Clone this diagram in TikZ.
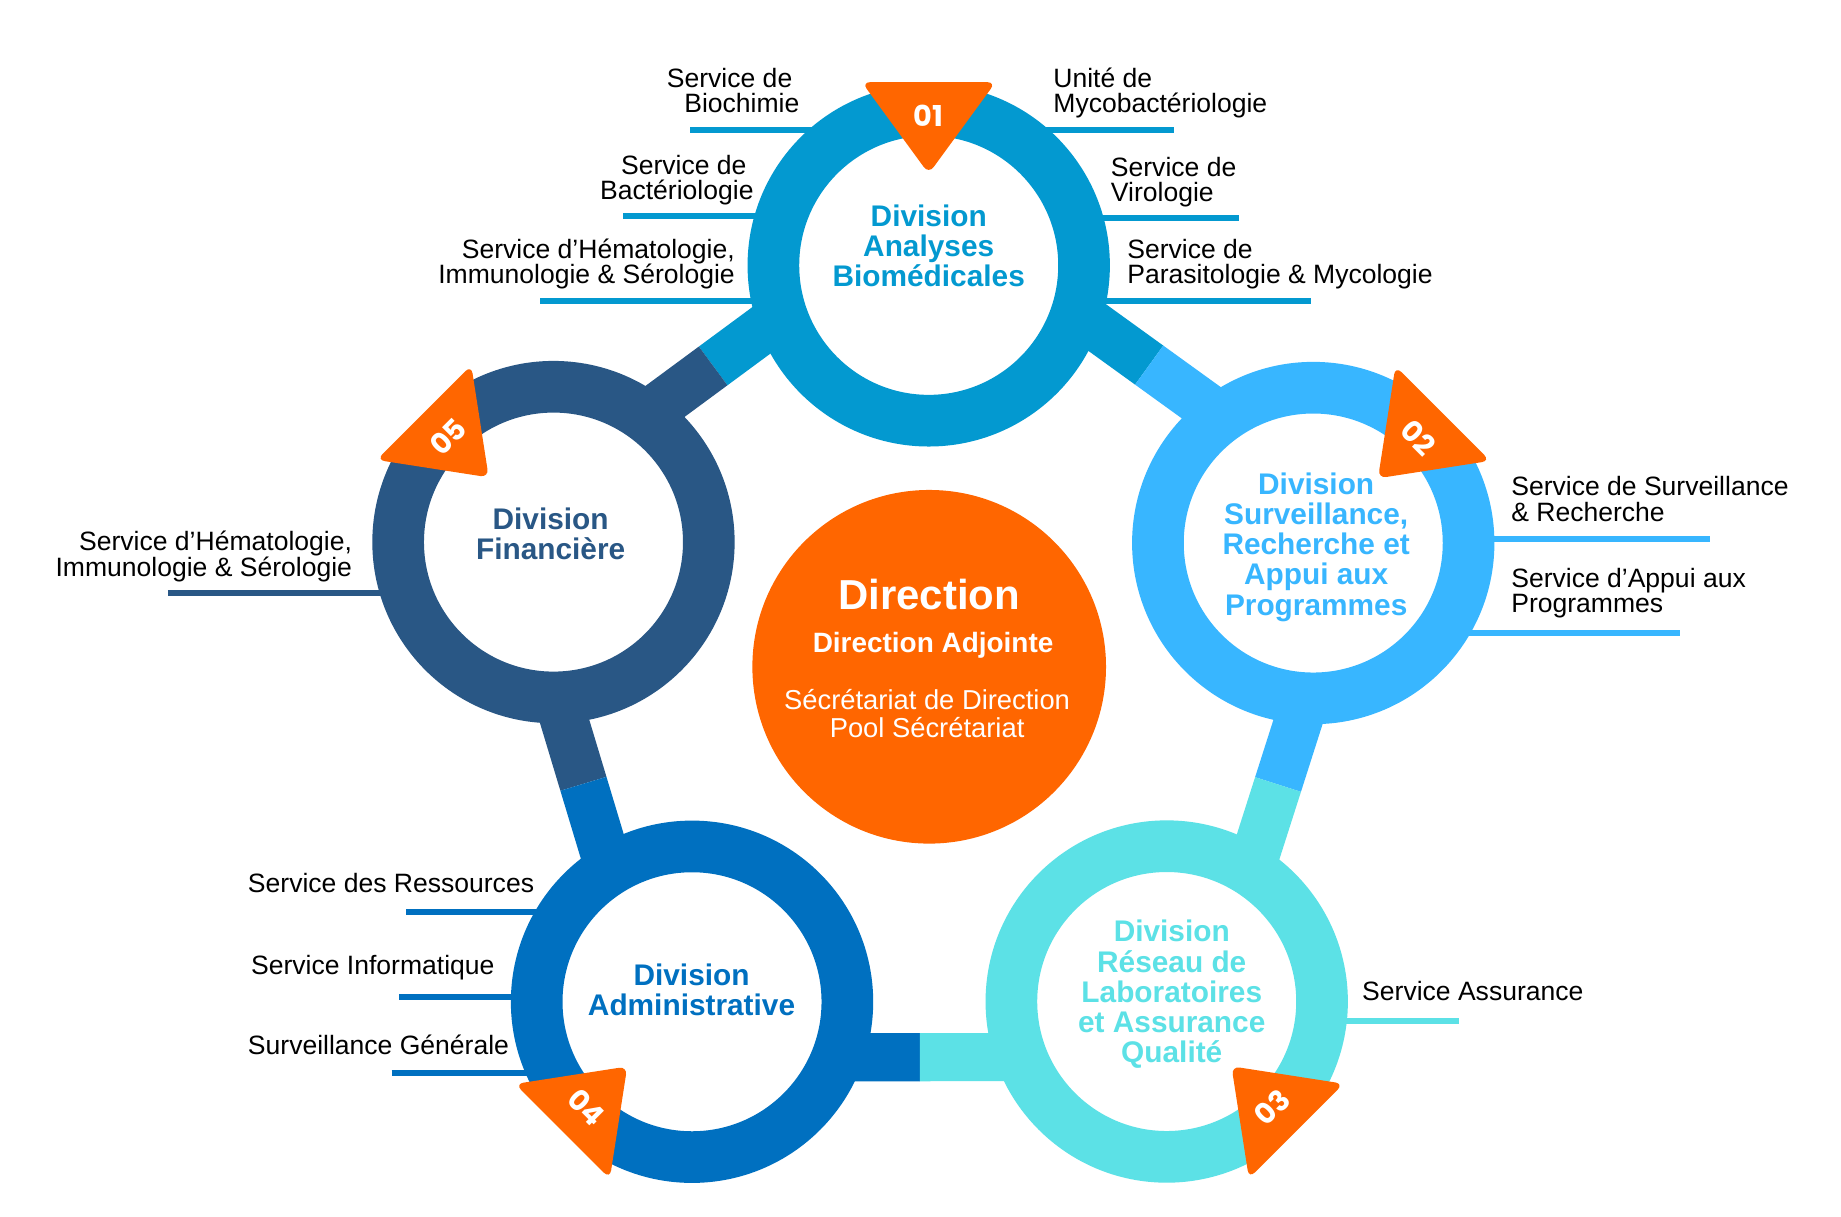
\documentclass[tikz,border=0pt]{standalone}
\usepackage{fontspec}
\setmainfont{Liberation Sans}
\newfontfamily\numfont{Poppins}
\usetikzlibrary{calc}
\definecolor{colA}{HTML}{0399D0}
\definecolor{colB}{HTML}{38B6FF}
\definecolor{colC}{HTML}{5CE1E6}
\definecolor{colD}{HTML}{0070C0}
\definecolor{colE}{HTML}{295785}
\definecolor{orgA}{HTML}{FF6600}
\newcommand\mytop{\rule{0pt}{20pt}}
\newcommand\mytopb{\rule{0pt}{24pt}}
\begin{document}
\begin{tikzpicture}[x=1pt,y=1pt,
  ringnode/.style={circle, minimum size=264.6pt, line width=44pt, fill=white, inner sep=0pt},
  connbar/.style={line width=41pt, line cap=butt},
  svcline/.style={line width=5pt},
  svclabel/.style={font=\fontsize{22.6}{21.6}\selectfont, inner sep=0pt, text=black},
  divtext/.style={font=\fontsize{25.4}{25.7}\selectfont\bfseries, align=center, inner sep=0pt, anchor=north},
  numtext/.style={font=\numfont\fontsize{24.5}{24.5}\selectfont\bfseries, text=white, inner sep=0pt},
  badge/.style={fill=orgA, rounded corners=7pt},
]
\fill[white] (0,0) rectangle (1568,-1036);
\useasboundingbox (0,0) rectangle (1568,-1036);

% ring centres
\coordinate (c1) at (791,-226);
\coordinate (c2) at (1118.5,-462.5);
\coordinate (c3) at (993.7,-853);
\coordinate (c4) at (589.4,-853.2);
\coordinate (c5) at (471.4,-461.7);

% connector bars
\coordinate (b12a) at ($(c1)+(24,33.3)$);
\coordinate (b12b) at ($(c2)+(24,33.3)$);
\coordinate (b12m) at ($(b12a)!0.5!(b12b)$);
\coordinate (b15a) at ($(c1)+(-23.8,32.2)$);
\coordinate (b15b) at ($(c5)+(-23.8,32.2)$);
\coordinate (b15m) at ($(b15a)!0.5!(b15b)$);
\coordinate (b54a) at ($(c5)+(-33.5,-10.1)$);
\coordinate (b54b) at ($(c4)+(-33.5,-10.1)$);
\coordinate (b54m) at ($(b54a)!0.5!(b54b)$);
\coordinate (b23a) at ($(c2)+(32.4,-10.4)$);
\coordinate (b23b) at ($(c3)+(32.4,-10.4)$);
\coordinate (b23m) at ($(b23a)!0.5!(b23b)$);
\coordinate (b43a) at ($(c4)+(0,-47.3)$);
\coordinate (b43b) at ($(c3)+(0,-47.3)$);
\coordinate (b43m) at ($(b43a)!0.48!(b43b)$);

\draw[connbar, draw=colA] (b12a) -- (b12m);
\draw[connbar, draw=colB] (b12m) -- (b12b);
\draw[connbar, draw=colA] (b15a) -- (b15m);
\draw[connbar, draw=colE] (b15m) -- (b15b);
\draw[connbar, draw=colE] (b54a) -- (b54m);
\draw[connbar, draw=colD] (b54m) -- (b54b);
\draw[connbar, draw=colB] (b23a) -- (b23m);
\draw[connbar, draw=colC] (b23m) -- (b23b);
\draw[connbar, draw=colD] (b43a) -- (b43m);
\draw[connbar, draw=colC] (b43m) -- (b43b);

% service lines
\draw[svcline, draw=colA] (588,-110.5) -- (791,-110.5);
\draw[svcline, draw=colA] (531,-184) -- (791,-184);
\draw[svcline, draw=colA] (460,-256) -- (791,-256);
\draw[svcline, draw=colA] (791,-111) -- (1000,-111);
\draw[svcline, draw=colA] (791,-186) -- (1055,-186);
\draw[svcline, draw=colA] (791,-256) -- (1117,-256);
\draw[svcline, draw=colB] (1118.5,-459) -- (1456,-459);
\draw[svcline, draw=colB] (1118.5,-539) -- (1431,-539);
\draw[svcline, draw=colC] (993.7,-869.6) -- (1243,-869.6);
\draw[svcline, draw=colD] (346,-776.5) -- (589.4,-776.5);
\draw[svcline, draw=colD] (340,-849) -- (589.4,-849);
\draw[svcline, draw=colD] (333.5,-913.7) -- (589.4,-913.7);
\draw[svcline, draw=colE] (143,-505.4) -- (471.4,-505.4);

% rings
\node[ringnode, draw=colA] (r1) at (c1) {};
\node[ringnode, draw=colB] (r2) at (c2) {};
\node[ringnode, draw=colC] (r3) at (c3) {};
\node[ringnode, draw=colD] (r4) at (c4) {};
\node[ringnode, draw=colE] (r5) at (c5) {};

% division names
\node[divtext, text=colA] (t1) at (791,-168.5) {\mytopb Division\\Analyses\\Biomédicales};
\node[divtext, text=colB] (t2) at (1121,-396.8) {\mytopb Division\\Surveillance,\\Recherche et\\Appui aux\\Programmes};
\node[divtext, text=colC] (t3) at (998,-778) {\mytopb Division\\Réseau de\\Laboratoires\\et Assurance\\Qualité};
\node[divtext, text=colD] (t4) at (589,-815) {\mytopb Division\\Administrative};
\node[divtext, text=colE] (t5) at (469,-426.9) {\mytopb Division\\Financière};

% numbered badges
\begin{scope}[shift={(c1)}]
  \fill[badge] (-57,156) -- (57,156) -- (0,78) -- cycle;
  \node[numtext] (n1) at (0,127) {01};
\end{scope}
\begin{scope}[shift={(c2)}, rotate=-45]
  \fill[badge] (-57,156) -- (57,156) -- (0,78) -- cycle;
  \node[numtext, rotate=-45] (n2) at (0,127) {02};
\end{scope}
\begin{scope}[shift={(c3)}, rotate=-135]
  \fill[badge] (-57,156) -- (57,156) -- (0,78) -- cycle;
  \node[numtext, rotate=45] (n3) at (0,127) {03};
\end{scope}
\begin{scope}[shift={(c4)}, rotate=135]
  \fill[badge] (-57,156) -- (57,156) -- (0,78) -- cycle;
  \node[numtext, rotate=-45] (n4) at (0,127) {04};
\end{scope}
\begin{scope}[shift={(c5)}, rotate=45]
  \fill[badge] (-57,156) -- (57,156) -- (0,78) -- cycle;
  \node[numtext, rotate=45] (n5) at (0,127) {05};
\end{scope}

% centre
\node[circle, fill=orgA, minimum size=301.2pt, inner sep=0pt] (dir) at (791.4,-567.9) {};
\node[anchor=base, inner sep=0pt, text=white, font=\fontsize{35.7}{36}\selectfont\bfseries] (dt1) at (791.4,-519) {Direction};
\node[anchor=base, inner sep=0pt, text=white, font=\fontsize{23.8}{24}\selectfont\bfseries] (dt2) at (794.7,-556) {Direction Adjointe};
\node[anchor=north, inner sep=0pt, text=white, align=center, font=\fontsize{23.3}{23.8}\selectfont] (dt3) at (789.6,-584.2) {\mytop Sécrétariat de Direction\\Pool Sécrétariat};

% service labels
\node[svclabel, anchor=north east, align=right] (l11) at (681,-54.4) {\mytop Service de\makebox[6pt]{}\\Biochimie};
\node[svclabel, anchor=north east, align=right] (l12) at (642,-128.4) {\mytop Service de\makebox[6pt]{}\\Bactériologie};
\node[svclabel, anchor=north east, align=right] (l13) at (626,-200) {\mytop Service d’Hématologie,\\Immunologie \& Sérologie};
\node[svclabel, anchor=north west, align=left] (l14) at (897,-54) {\mytop Unité de\\Mycobactériologie};
\node[svclabel, anchor=north west, align=left] (l15) at (946,-130) {\mytop Service de\\Virologie};
\node[svclabel, anchor=north west, align=left] (l16) at (960,-200) {\mytop Service de\\Parasitologie \& Mycologie};
\node[svclabel, anchor=north west, align=left] (l21) at (1287,-402) {\mytop Service de Surveillance\\\& Recherche};
\node[svclabel, anchor=north west, align=left] (l22) at (1287,-480) {\mytop Service d’Appui aux\\Programmes};
\node[svclabel, anchor=north west, align=left] (l31) at (1160,-831.7) {\mytop Service Assurance};
\node[svclabel, anchor=north west, align=left] (l41) at (211,-740.3) {\mytop Service des Ressources};
\node[svclabel, anchor=north west, align=left] (l42) at (213.7,-809.9) {\mytop Service Informatique};
\node[svclabel, anchor=north west, align=left] (l43) at (211,-877.8) {\mytop Surveillance Générale};
\node[svclabel, anchor=north east, align=right] (l51) at (300,-449) {\mytop Service d’Hématologie,\\Immunologie \& Sérologie};
\end{tikzpicture}
\end{document}
